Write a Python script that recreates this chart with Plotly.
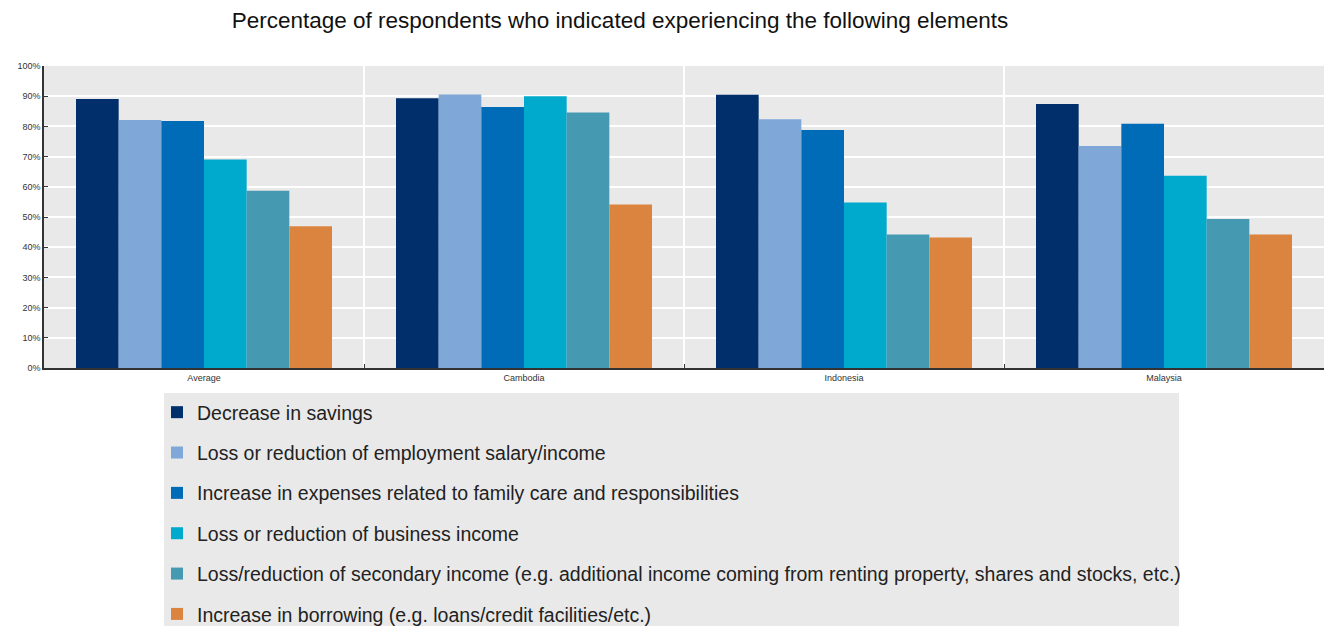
import plotly.graph_objects as go

# Survey results: share of respondents reporting each element, by country
countries = ["Average", "Cambodia", "Indonesia", "Malaysia"]

series_names = [
    "Decrease in savings",
    "Loss or reduction of employment salary/income",
    "Increase in expenses related to family care and responsibilities",
    "Loss or reduction of business income",
    "Loss/reduction of secondary income (e.g. additional income coming from renting property, shares and stocks, etc.)",
    "Increase in borrowing (e.g. loans/credit facilities/etc.)",
]

decrease_savings = [89.1, 89.3, 90.5, 87.4]
loss_employment = [82.1, 90.6, 82.4, 73.5]
increase_expenses = [81.8, 86.4, 78.8, 80.9]
loss_business = [69.0, 90.0, 54.8, 63.7]
loss_secondary = [58.7, 84.6, 44.2, 49.3]
increase_borrowing = [46.9, 54.1, 43.2, 44.2]

series_values = [
    decrease_savings,
    loss_employment,
    increase_expenses,
    loss_business,
    loss_secondary,
    increase_borrowing,
]

colors = ["#002F6C", "#7FA7D8", "#006BB6", "#00AACC", "#4599B1", "#DB843F"]

W, H = 1324, 626
ML, MR, MT, MB = 44, 0, 66, 258
plot_w = W - ML - MR
plot_h = H - MT - MB


def px_x(px):
    return (px - ML) / plot_w


def px_y(py):
    return (H - MB - py) / plot_h


fig = go.Figure()
for i, (name, vals, col) in enumerate(zip(series_names, series_values, colors)):
    fig.add_trace(go.Bar(
        x=countries,
        y=vals,
        name=name,
        legendgroup=f"g{i}",
        marker=dict(color=col, line=dict(width=0)),
    ))

# grey panel behind the legend
fig.add_shape(
    type="rect",
    xref="paper", yref="paper",
    x0=px_x(164), x1=px_x(1179),
    y0=px_y(630), y1=px_y(393),
    fillcolor="#E9E9E9",
    line=dict(width=0),
    layer="below",
)

fig.update_layout(
    width=W,
    height=H,
    barmode="group",
    bargap=0.2,
    bargroupgap=0,
    plot_bgcolor="#E9E9E9",
    paper_bgcolor="white",
    margin=dict(l=ML, r=MR, t=MT, b=MB, autoexpand=False),
    font=dict(family="Arial, Liberation Sans, sans-serif", color="#222"),
    title=dict(
        text="Percentage of respondents who indicated experiencing the following elements",
        x=620 / W,
        xanchor="center",
        y=1 - 20 / H,
        yanchor="middle",
        font=dict(size=22.5, color="#111"),
    ),
    legend=dict(
        orientation="v",
        x=px_x(157),
        xanchor="left",
        y=px_y(393),
        yanchor="top",
        bgcolor="rgba(0,0,0,0)",
        borderwidth=0,
        font=dict(size=19.5, color="#222"),
        tracegroupgap=12,
        traceorder="grouped",
    ),
    xaxis=dict(
        type="category",
        tickson="boundaries",
        showgrid=True,
        gridcolor="white",
        gridwidth=1.5,
        showline=True,
        linecolor="#333",
        linewidth=1.5,
        ticks="inside",
        ticklen=4,
        tickcolor="#333",
        tickfont=dict(size=9, color="#333"),
    ),
    yaxis=dict(
        range=[0, 100],
        dtick=10,
        ticksuffix="%",
        showgrid=True,
        gridcolor="white",
        gridwidth=1.5,
        zeroline=False,
        showline=True,
        linecolor="#333",
        linewidth=1.5,
        ticks="inside",
        ticklen=4,
        tickcolor="#333",
        tickfont=dict(size=9, color="#333"),
    ),
)

fig.write_html("out.html")
